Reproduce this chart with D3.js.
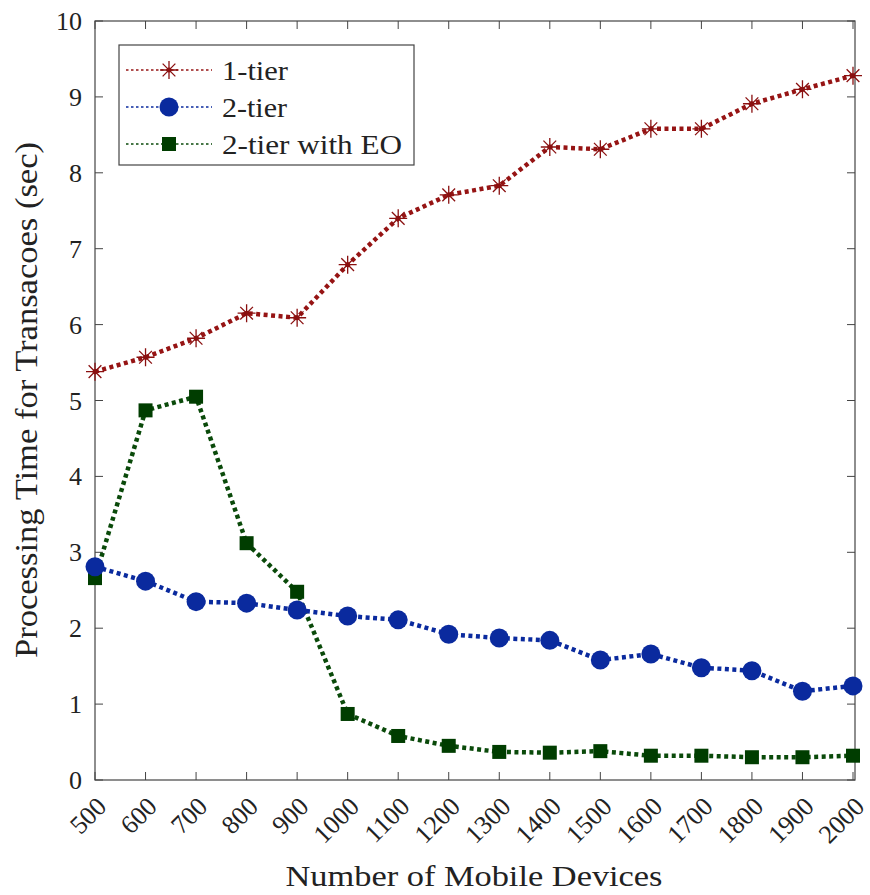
<!DOCTYPE html>
<html><head><meta charset="utf-8">
<script src="https://cdn.jsdelivr.net/npm/d3@7"></script>
<style>body{margin:0;background:#fff}</style>
</head><body>
<svg id="c" width="870" height="895"></svg>
<script>
const devices = [500,600,700,800,900,1000,1100,1200,1300,1400,1500,1600,1700,1800,1900,2000];
const tier1 = [5.38,5.57,5.82,6.15,6.09,6.79,7.40,7.71,7.83,8.34,8.31,8.58,8.58,8.91,9.10,9.28];
const tier2 = [2.81,2.62,2.35,2.33,2.24,2.16,2.11,1.92,1.87,1.84,1.58,1.66,1.48,1.44,1.17,1.24];
const tier2EO = [2.66,4.87,5.05,3.12,2.48,0.87,0.58,0.45,0.37,0.36,0.38,0.32,0.32,0.30,0.30,0.32];
const yTicks = [0,1,2,3,4,5,6,7,8,9,10];
const seriesNames = ["1-tier","2-tier","2-tier with EO"];

const svg = d3.select("#c");
const L=95, R=855, T=21, B=780;
const x = d3.scaleLinear().domain([500,2000]).range([L,R-2]);
const y = d3.scaleLinear().domain([0,10]).range([B,T]);
const axisColor = "#444";
function txt(sel, size){ return sel.style("font-family",'"Liberation Serif"').style("font-size",size+"px").style("fill","#222"); }

svg.append("rect").attr("x",L).attr("y",T).attr("width",R-L).attr("height",B-T)
  .attr("fill","none").attr("stroke",axisColor).attr("stroke-width",1.2);

const tk=8;
devices.forEach(d=>{
  svg.append("line").attr("x1",x(d)).attr("x2",x(d)).attr("y1",B).attr("y2",B-tk).attr("stroke",axisColor);
  svg.append("line").attr("x1",x(d)).attr("x2",x(d)).attr("y1",T).attr("y2",T+tk).attr("stroke",axisColor);
  txt(svg.append("text").attr("transform",`translate(${x(d)+13},${B+28}) rotate(-45)`)
    .attr("text-anchor","end"),26).text(d);
});
yTicks.forEach(v=>{
  svg.append("line").attr("x1",L).attr("x2",L+tk).attr("y1",y(v)).attr("y2",y(v)).attr("stroke",axisColor);
  svg.append("line").attr("x1",R).attr("x2",R-tk).attr("y1",y(v)).attr("y2",y(v)).attr("stroke",axisColor);
  txt(svg.append("text").attr("x",L-13).attr("y",y(v)+9).attr("text-anchor","end"),26).text(v);
});

txt(svg.append("text").attr("x",474).attr("y",886).attr("text-anchor","middle"),30)
  .attr("textLength",377).attr("lengthAdjust","spacingAndGlyphs").text("Number of Mobile Devices");
txt(svg.append("text").attr("transform",`translate(37,400) rotate(-90)`).attr("text-anchor","middle"),31)
  .attr("textLength",516).attr("lengthAdjust","spacingAndGlyphs").text("Processing Time for Transacoes (sec)");

const colors = ["#961414","#0a2a9e","#0a4a0a"];
const markerColors = ["#8a1010","#0a2a9e","#003d00"];
const data = [tier1,tier2,tier2EO];
const line = d3.line().x((d,i)=>x(devices[i])).y(d=>y(d));

function drawMarker(g,k,cx,cy){
  if(k===0){
    const s=9;
    const p = d3.path();
    for(let a=0;a<4;a++){
      const ang = a*Math.PI/4;
      p.moveTo(cx-s*Math.cos(ang),cy-s*Math.sin(ang));
      p.lineTo(cx+s*Math.cos(ang),cy+s*Math.sin(ang));
    }
    g.append("path").attr("d",p.toString()).attr("stroke",markerColors[0]).attr("stroke-width",1.3).attr("fill","none");
    g.append("circle").attr("cx",cx).attr("cy",cy).attr("r",2.5).attr("fill",markerColors[0]);
  } else if(k===1){
    g.append("circle").attr("cx",cx).attr("cy",cy).attr("r",9.5).attr("fill",markerColors[1]);
  } else {
    g.append("rect").attr("x",cx-7).attr("y",cy-7).attr("width",14).attr("height",14).attr("fill",markerColors[2]);
  }
}

[2,1,0].forEach(k=>{
  const g=svg.append("g");
  g.append("path").datum(data[k]).attr("d",line).attr("fill","none")
    .attr("stroke",colors[k]).attr("stroke-width",4.5).attr("stroke-dasharray","4,3.5");
  data[k].forEach((v,i)=>drawMarker(g,k,x(devices[i]),y(v)));
});

const lg = svg.append("g");
lg.append("rect").attr("x",119).attr("y",45).attr("width",295).attr("height",120)
  .attr("fill","#fff").attr("stroke","#444").attr("stroke-width",1.2);
const rowsY=[70,107,144];
const legendWidths=[66,65,180];
seriesNames.forEach((n,k)=>{
  lg.append("line").attr("x1",126).attr("x2",212).attr("y1",rowsY[k]).attr("y2",rowsY[k])
    .attr("stroke",colors[k]).attr("stroke-width",1.3).attr("stroke-dasharray","2.5,2.5");
  drawMarker(lg,k,169,rowsY[k]);
  txt(lg.append("text").attr("x",222).attr("y",rowsY[k]+10),28)
    .attr("textLength",legendWidths[k]).attr("lengthAdjust","spacingAndGlyphs").text(n);
});
</script>
</body></html>
